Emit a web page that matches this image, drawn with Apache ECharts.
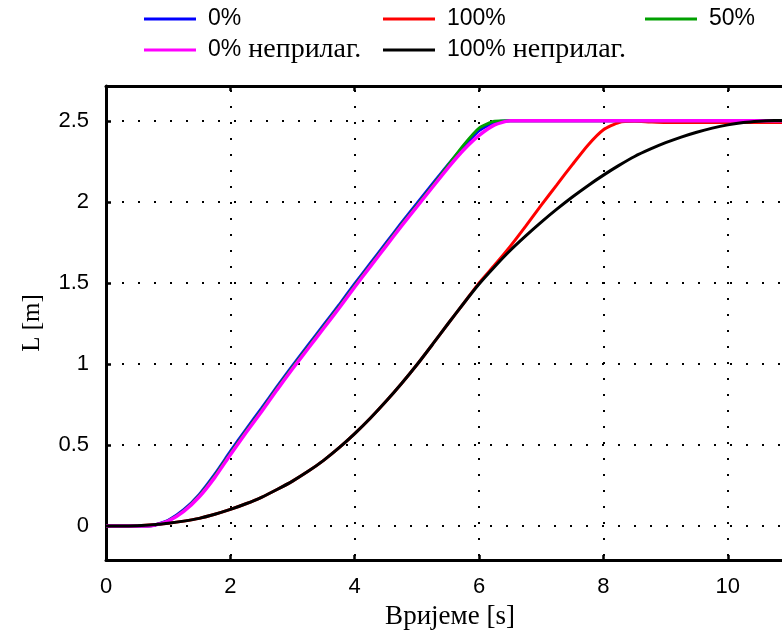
<!DOCTYPE html>
<html>
<head>
<meta charset="utf-8">
<script src="https://cdn.jsdelivr.net/npm/echarts@6/dist/echarts.min.js"></script>
<style>
  html, body { margin: 0; padding: 0; background: #fff; }
  #chart { width: 782px; height: 631px; }
</style>
</head>
<body>
<div id="chart"></div>
<script>
// Time samples [s]
const time = [0, 0.25, 0.5, 0.75, 1, 1.25, 1.5, 1.75, 2, 2.25, 2.5, 2.75, 3, 3.25, 3.5, 3.75,
  4, 4.25, 4.5, 4.75, 5, 5.25, 5.5, 5.75, 6, 6.25, 6.5, 6.75, 7, 7.25, 7.5, 7.75,
  8, 8.25, 8.5, 8.75, 9, 9.25, 9.5, 9.75, 10, 10.25, 10.5, 10.75, 11];

// Rope length L [m] for each case
const load0 = [0, 0, 0, 0.003, 0.035, 0.1, 0.195, 0.32, 0.46, 0.595, 0.725, 0.86, 0.99, 1.115, 1.24, 1.365,
  1.495, 1.62, 1.745, 1.87, 1.99, 2.11, 2.23, 2.34, 2.44, 2.49, 2.5, 2.5, 2.5, 2.5, 2.5, 2.5,
  2.5, 2.5, 2.5, 2.5, 2.5, 2.5, 2.5, 2.5, 2.5, 2.5, 2.5, 2.5, 2.5];
const load100 = [0, 0, 0.002, 0.007, 0.017, 0.03, 0.047, 0.072, 0.102, 0.137, 0.177, 0.225, 0.277, 0.337, 0.405, 0.483,
  0.57, 0.665, 0.768, 0.878, 0.995, 1.12, 1.248, 1.373, 1.5, 1.61, 1.725, 1.85, 1.98, 2.105, 2.23, 2.35,
  2.445, 2.49, 2.497, 2.493, 2.49, 2.49, 2.49, 2.49, 2.49, 2.49, 2.49, 2.49, 2.49];
const load50 = [0, 0, 0, 0.003, 0.032, 0.095, 0.188, 0.31, 0.45, 0.585, 0.715, 0.85, 0.98, 1.105, 1.23, 1.355,
  1.485, 1.61, 1.735, 1.86, 1.98, 2.1, 2.225, 2.35, 2.455, 2.497, 2.5, 2.5, 2.5, 2.5, 2.5, 2.5,
  2.5, 2.5, 2.5, 2.5, 2.5, 2.5, 2.5, 2.5, 2.5, 2.5, 2.5, 2.5, 2.5];
const load0Fixed = [0, 0, 0, 0.003, 0.03, 0.09, 0.18, 0.3, 0.44, 0.575, 0.705, 0.84, 0.97, 1.095, 1.22, 1.345,
  1.475, 1.6, 1.725, 1.85, 1.97, 2.09, 2.21, 2.32, 2.41, 2.475, 2.5, 2.5, 2.5, 2.5, 2.5, 2.5,
  2.5, 2.5, 2.5, 2.5, 2.5, 2.5, 2.5, 2.5, 2.5, 2.5, 2.5, 2.5, 2.5];
const load100Fixed = [0, 0, 0.002, 0.007, 0.017, 0.03, 0.047, 0.072, 0.102, 0.137, 0.177, 0.225, 0.277, 0.337, 0.405, 0.483,
  0.57, 0.665, 0.768, 0.878, 0.995, 1.12, 1.248, 1.373, 1.493, 1.6, 1.7, 1.79, 1.875, 1.955, 2.03, 2.1,
  2.165, 2.225, 2.28, 2.325, 2.365, 2.4, 2.43, 2.455, 2.475, 2.49, 2.498, 2.502, 2.503];

const seriesNames = ['0%', '100%', '50%', '0% неприлаг.', '100% неприлаг.'];
const seriesColors = ['#0000ff', '#ff0000', '#00a000', '#ff00ff', '#000000'];
const seriesValues = [load0, load100, load50, load0Fixed, load100Fixed];
const seriesWidths = [3, 3, 3, 3.5, 3];

const xTickStep = 2;
const yTickStep = 0.5;

const pairs = vals => time.map((t, i) => [t, vals[i]]);

// Percent part in sans, the word part in serif
const legendText = {
  formatter: name => {
    const i = name.indexOf(' ');
    return i < 0 ? '{s|' + name + '}' : '{s|' + name.slice(0, i) + '}{r|' + name.slice(i) + '}';
  },
  textStyle: {
    padding: [0, 0, 0, 7],
    lineHeight: 26,
    rich: {
      s: { fontFamily: 'Liberation Sans', fontSize: 23, color: '#000', lineHeight: 26 },
      r: { fontFamily: 'Liberation Serif', fontSize: 28, color: '#000', lineHeight: 26 }
    }
  }
};

function legendAt(left, names) {
  return Object.assign({
    orient: 'vertical', left: left, top: 6, padding: 0, itemWidth: 52, itemHeight: 3, itemGap: 4,
    icon: 'rect', selectedMode: false, data: names
  }, legendText);
}

const axisLineStyle = { color: '#000', width: 3 };
const tickStyle = { show: true, inside: true, length: 5, lineStyle: { color: '#000', width: 2.5 } };
const xMax = 11;

const chart = echarts.init(document.getElementById('chart'), null, { renderer: 'canvas' });
chart.setOption({
  animation: false,
  backgroundColor: '#fff',
  legend: [
    legendAt(144, [seriesNames[0], seriesNames[3]]),
    legendAt(383, [seriesNames[1], seriesNames[4]]),
    legendAt(645, [seriesNames[2]])
  ],
  // the frame runs past the right edge of the canvas
  grid: { left: 106, top: 86, width: 684, height: 474, containLabel: false, outerBoundsMode: 'none' },
  xAxis: [
    {
      type: 'value', min: 0, max: xMax, interval: xTickStep, position: 'bottom',
      name: 'Вријеме [s]', nameLocation: 'middle', nameGap: 43,
      nameTextStyle: { fontFamily: 'Liberation Serif', fontSize: 27, color: '#000', padding: [0, 0, 0, 4] },
      axisLine: { show: true, onZero: false, lineStyle: axisLineStyle },
      axisTick: tickStyle,
      axisLabel: { fontFamily: 'Liberation Sans', fontSize: 22, color: '#000', margin: 16, showMaxLabel: false,
        formatter: v => Math.abs(v / xTickStep - Math.round(v / xTickStep)) < 1e-6 ? String(v) : '' },
      splitLine: { show: true, lineStyle: { color: '#000', width: 2, type: [2, 14], dashOffset: 12 } }
    },
    {
      type: 'value', min: 0, max: xMax, interval: xTickStep, position: 'top',
      axisLine: { show: true, onZero: false, lineStyle: axisLineStyle },
      axisTick: tickStyle,
      axisLabel: { show: false },
      splitLine: { show: false }
    }
  ],
  yAxis: {
    type: 'value', min: -0.21, max: 2.715, minInterval: yTickStep, maxInterval: yTickStep,
    name: 'L [m]', nameLocation: 'middle', nameGap: 61,
    nameTextStyle: { fontFamily: 'Liberation Serif', fontSize: 25, color: '#000' },
    axisLine: { show: true, onZero: false, lineStyle: axisLineStyle },
    axisTick: tickStyle,
    axisLabel: {
      fontFamily: 'Liberation Sans', fontSize: 22, color: '#000', margin: 17,
      showMinLabel: false, showMaxLabel: false,
      formatter: v => Math.abs(v / yTickStep - Math.round(v / yTickStep)) < 1e-6 ? String(v) : ''
    },
    splitLine: { show: true, lineStyle: { color: '#000', width: 2, type: [2, 14] } }
  },
  series: seriesNames.map((name, k) => ({
    name: name,
    type: 'line',
    xAxisIndex: 0,
    data: pairs(seriesValues[k]),
    showSymbol: false,
    smooth: 0.2,
    color: seriesColors[k],
    itemStyle: { color: seriesColors[k] },
    lineStyle: { color: seriesColors[k], width: seriesWidths[k] }
  }))
});
</script>
</body>
</html>
